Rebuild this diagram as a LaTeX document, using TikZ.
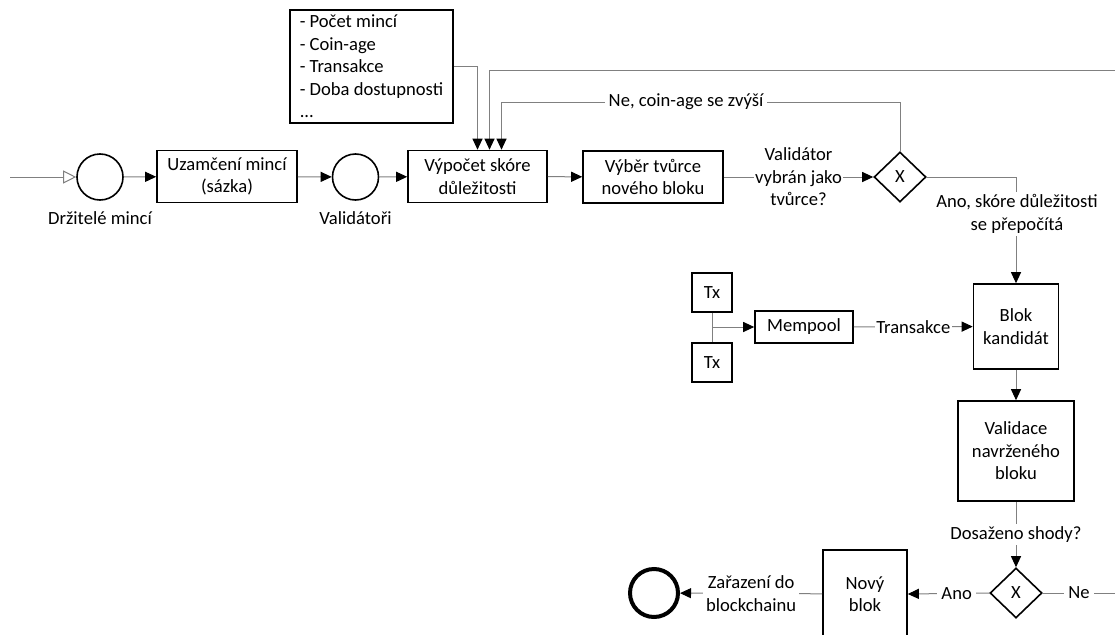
\documentclass[tikz,border=0pt]{standalone}
\usepackage{fontspec}
\setmainfont{Carlito}
\usetikzlibrary{shapes.geometric,arrows.meta}
\definecolor{linegray}{RGB}{128,128,128}
\begin{document}
\begin{tikzpicture}[x=1pt,y=-1pt,
  font=\fontsize{18.6}{22.5}\selectfont,
  box/.style={draw=black, line width=1.6pt, fill=white, align=center, inner sep=0pt},
  ev/.style={circle, draw=black, line width=1.6pt, minimum size=46pt, inner sep=0pt},
  gw/.style={diamond, draw=black, line width=1.6pt, minimum width=52pt, minimum height=50pt, inner sep=0pt},
  conn/.style={draw=linegray, line width=1pt},
  flow/.style={conn, -{Triangle[length=11pt,width=10pt,color=black]}},
  lbl/.style={fill=white, inner sep=1.5pt, align=center}
]
\clip (0,0) rectangle (1115,634);
\fill[white] (0,0) rectangle (1115,634);

% top row
\node[ev] (holders) at (100,177) {};
\node (holderslbl) at (100,218) {Držitelé mincí};
\node[box, minimum width=140pt, minimum height=52pt] (lock) at (227,176.5) {Uzamčení mincí\\(sázka)};
\node[ev] (valid) at (355.5,177) {};
\node (validlbl) at (355.5,218) {Validátoři};
\node[box, minimum width=139pt, minimum height=52pt] (calc) at (477.5,176.5) {Výpočet skóre\\důležitosti};
\node[box, minimum width=140pt, minimum height=52pt] (select) at (653,177) {Výběr tvůrce\\nového bloku};
\node[gw] (gw1) at (900,177) {X};
\node[box, align=left, minimum width=163pt, minimum height=113pt] (info) at (371.5,66.5) {- Počet mincí\\- Coin-age\\- Transakce\\- Doba dostupnosti\\...};

% middle
\node[box, minimum width=40pt, minimum height=39pt] (tx1) at (712,292.5) {Tx};
\node[box, minimum width=40pt, minimum height=39pt] (tx2) at (712,362.5) {Tx};
\node[box, minimum width=98pt, minimum height=32pt] (mempool) at (804,327) {Mempool};
\node[box, minimum width=85pt, minimum height=85pt] (blok) at (1016,326.5) {Blok\\kandidát};
\node[box, minimum width=116pt, minimum height=100pt] (validace) at (1016,451) {Validace\\navrženého\\bloku};

% bottom
\node[gw] (gw2) at (1016,593) {X};
\node[box, minimum width=84pt, minimum height=88pt] (novy) at (865,594) {Nový\\blok};
\node[circle, draw=black, line width=4pt, minimum size=48pt, inner sep=0pt] (endev) at (654,593) {};

% coordinates for free ends
\coordinate (startL) at (10,177);
\coordinate (topR) at (1115,70);
\coordinate (neY) at (900,102);
\coordinate (txj) at (712,327);
\coordinate (neR) at (1115,593);

% connectors
\draw[conn, -{Triangle[open,length=13pt,width=13pt]}] (startL) -- (holders.west);
\draw[flow] (holders) -- (lock);
\draw[flow] (lock) -- (valid);
\draw[flow] (valid) -- (calc);
\draw[flow] (calc) -- (select);
\draw[flow] (select) -- node[lbl] (qlbl) {Validátor\\vybrán jako\\tvůrce?} (gw1);

\draw[flow] (info.east) -| (calc.north);
\draw[flow] (topR) -| ([xshift=12pt]calc.north);
\draw[flow] (gw1.north) -- (neY) -| ([xshift=24pt]calc.north);
\node[lbl, inner sep=4pt] (nelbl) at (686,102) {Ne, coin-age se zvýší};

\draw[flow] (gw1.east) -| (blok.north);
\node[lbl, inner sep=3pt] (anolbl) at (1017,214) {Ano, skóre důležitosti\\se přepočítá};

\draw[conn] (tx1.south) -- (tx2.north);
\draw[flow] (txj) -- (mempool.west);
\draw[flow] (mempool) -- node[lbl] (trlbl) {Transakce} (blok);
\draw[flow] (blok) -- (validace);
\draw[flow] (validace) -- node[lbl, inner sep=3pt] (shlbl) {Dosaženo shody?} (gw2);
\draw[conn] (gw2.east) -- node[lbl, inner sep=4pt] (nelbl2) {Ne} (neR);
\draw[flow] (gw2.west) -- node[lbl, pos=0.4, inner sep=4pt] (ano2lbl) {Ano} (novy.east);
\draw[flow] (novy) -- node[lbl, inner sep=3pt] (zarlbl) {Zařazení do\\blockchainu} (endev);
\end{tikzpicture}
\end{document}
